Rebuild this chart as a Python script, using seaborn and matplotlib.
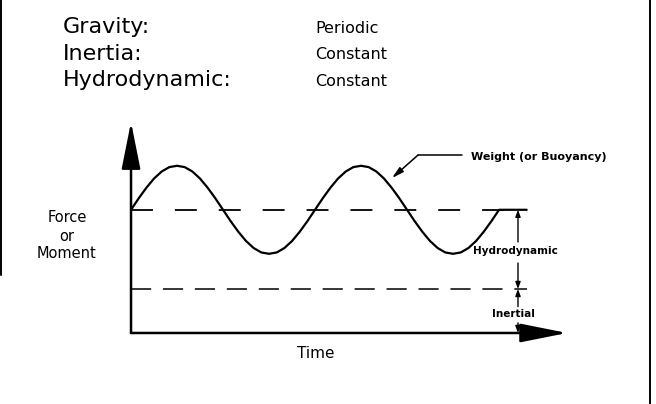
import numpy as np
import pandas as pd
import matplotlib
matplotlib.use("Agg")
import matplotlib.pyplot as plt
from matplotlib.lines import Line2D
import seaborn as sns

# time in wave cycles, force in arbitrary units (wave amplitude = 1)
time = list(np.arange(49) / 24) + [2.15]
weight = [2.8, 3.06, 3.3, 3.51, 3.67, 3.77, 3.8, 3.77, 3.67, 3.51, 3.3, 3.06,
          2.8, 2.54, 2.3, 2.09, 1.93, 1.83, 1.8, 1.83, 1.93, 2.09, 2.3, 2.54,
          2.8, 3.06, 3.3, 3.51, 3.67, 3.77, 3.8, 3.77, 3.67, 3.51, 3.3, 3.06,
          2.8, 2.54, 2.3, 2.09, 1.93, 1.83, 1.8, 1.83, 1.93, 2.09, 2.3, 2.54,
          2.8, 2.8]
hydro_level = 2.8
inertia_level = 1.0
t_end = 2.15
t_dim = 2.103

components = ["Gravity:", "Inertia:", "Hydrodynamic:"]
behaviour = ["Periodic", "Constant", "Constant"]

df = pd.DataFrame({"time": time, "force": weight})

sns.set_theme(style="white")
plt.rcParams["font.family"] = ["DejaVu Sans"]
plt.rcParams["text.color"] = "black"
plt.rcParams["lines.scale_dashes"] = False

fig = plt.figure(figsize=(6.56, 4.04), dpi=100)
ax = fig.add_axes([0, 0, 1, 1])
ax.set_xlim(-0.712, 2.853)
ax.set_ylim(-1.614, 7.568)
ax.axis("off")

sns.lineplot(data=df, x="time", y="force", color="black", lw=1.6, ax=ax)

# level lines
ax.plot([0, t_end], [hydro_level, hydro_level], color="black", lw=1.3,
        dashes=(15.8, 15.8))
ax.plot([0, t_end], [inertia_level, inertia_level], color="black", lw=1.1,
        dashes=(14.5, 8.5))

# axes with big arrowheads
ax.annotate("", xy=(0, 4.795), xytext=(0, 0),
            arrowprops=dict(arrowstyle="-|>,head_length=29,head_width=5.8",
                            mutation_scale=1, color="black", lw=1.8,
                            shrinkA=0, shrinkB=0))
ax.annotate("", xy=(2.37, 0), xytext=(0, 0),
            arrowprops=dict(arrowstyle="-|>,head_length=29,head_width=5.8",
                            mutation_scale=1, color="black", lw=1.8,
                            shrinkA=0, shrinkB=0))

# dimension arrows
small = dict(arrowstyle="-|>,head_length=4,head_width=1.5", mutation_scale=1,
             color="black", lw=1.0, shrinkA=0, shrinkB=0)
ax.annotate("", xy=(t_dim, hydro_level), xytext=(t_dim, 2.07), arrowprops=small)
ax.annotate("", xy=(t_dim, inertia_level), xytext=(t_dim, 1.59), arrowprops=small)
ax.annotate("", xy=(t_dim, inertia_level), xytext=(t_dim, 0.6), arrowprops=small)
ax.annotate("", xy=(t_dim, 0), xytext=(t_dim, 0.23), arrowprops=small)

# leader for the weight curve
ax.plot([1.799, 1.560], [4.045, 4.045], color="black", lw=1.1)
ax.annotate("", xy=(1.418, 3.52), xytext=(1.560, 4.045),
            arrowprops=dict(arrowstyle="-|>,head_length=7,head_width=1.8",
                            mutation_scale=1, color="black", lw=1.1,
                            shrinkA=0, shrinkB=0))


def fx(x):
    return x / 656


def fy(y):
    return 1 - y / 404


for name, base in zip(components, [33, 60, 86]):
    fig.text(fx(63), fy(base), name, fontsize=16, va="baseline", color="black")
for name, base in zip(behaviour, [33, 59, 86]):
    fig.text(fx(315), fy(base), name, fontsize=11.5, va="baseline", color="black")

for word, base in zip(["Force", "or", "Moment"], [222, 241, 258]):
    fig.text(fx(67), fy(base), word, fontsize=10.5, ha="center", va="baseline",
             color="black")

fig.text(fx(316), fy(358), "Time", fontsize=11, ha="center", va="baseline",
         color="black")
fig.text(fx(471), fy(160), "Weight (or Buoyancy)", fontsize=8, weight="bold",
         va="baseline", color="black")
fig.text(fx(473), fy(254), "Hydrodynamic", fontsize=7.5, weight="bold",
         va="baseline", color="black")
fig.text(fx(513), fy(317), "Inertial", fontsize=7.5, weight="bold",
         ha="center", va="baseline", color="black")

# page frame
fig.add_artist(Line2D([fx(1), fx(1)], [1, fy(275)], color="black", lw=1.4,
                      transform=fig.transFigure))
fig.add_artist(Line2D([fx(650), fx(650)], [1, 0], color="black", lw=1.4,
                      transform=fig.transFigure))

fig.savefig("out.png", dpi=100, facecolor="white")
